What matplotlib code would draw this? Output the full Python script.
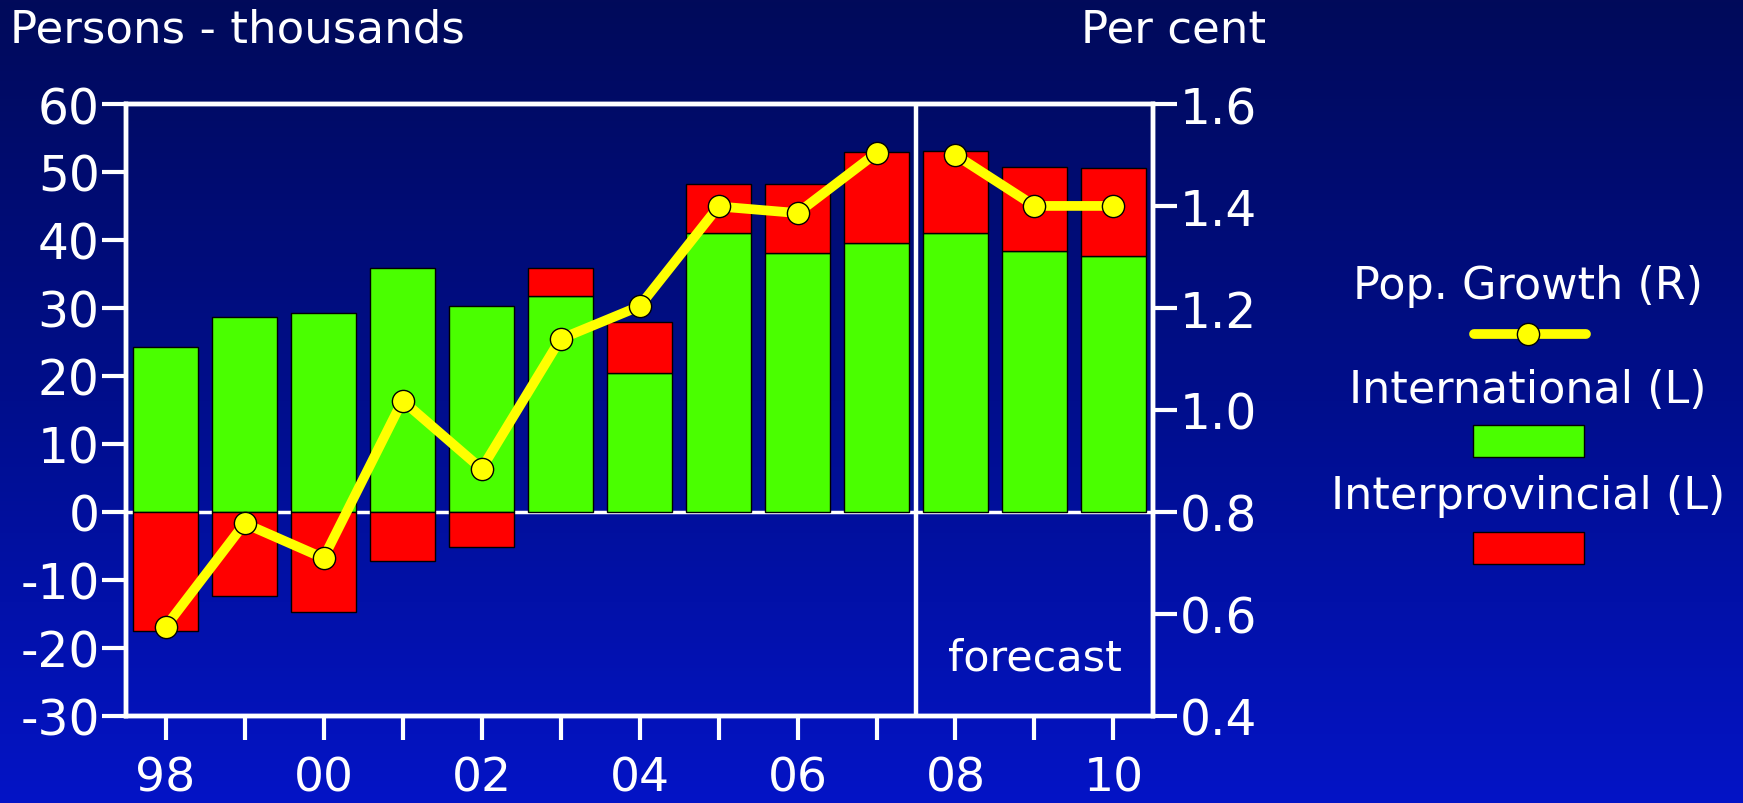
import numpy as np
import matplotlib
matplotlib.use("Agg")
from matplotlib import pyplot as plt
from matplotlib.colors import LinearSegmentedColormap
from matplotlib.lines import Line2D
from matplotlib.patches import Rectangle

plt.rcParams['font.family'] = ['DejaVu Sans']
plt.rcParams['axes.unicode_minus'] = False

years = ['98', '99', '00', '01', '02', '03', '04', '05', '06', '07', '08', '09', '10']
international = [24.3, 28.6, 29.2, 35.9, 30.2, 31.7, 20.4, 41.0, 38.0, 39.6, 41.0, 38.4, 37.6]
interprovincial = [-17.6, -12.4, -14.8, -7.3, -5.2, 4.1, 7.5, 7.3, 10.3, 13.4, 12.1, 12.3, 13.0]
pop_growth = [0.574, 0.777, 0.709, 1.018, 0.884, 1.139, 1.203, 1.399, 1.386, 1.504, 1.500, 1.400, 1.400]
first_forecast = '08'

left_ticks = [60, 50, 40, 30, 20, 10, 0, -10, -20, -30]
right_ticks = [1.6, 1.4, 1.2, 1.0, 0.8, 0.6, 0.4]

GREEN = '#4aff00'
RED = '#ff0000'
YELLOW = '#ffff00'
WHITE = 'white'

fig = plt.figure(figsize=(17.43, 8.04), dpi=100)

# blue gradient background
bg = fig.add_axes([0, 0, 1, 1], zorder=-10)
cmap = LinearSegmentedColormap.from_list('bg', ['#010a5a', '#000e8c', '#0414c6'])
bg.imshow(np.linspace(0, 1, 256).reshape(-1, 1), aspect='auto', cmap=cmap,
          extent=[0, 1, 0, 1], origin='upper')
bg.axis('off')

ax = fig.add_axes([0.0723, 0.1088, 0.5892, 0.7606])
ax.set_facecolor('none')
ax2 = ax.twinx()

x = np.arange(len(years))
intl = np.array(international)
inter = np.array(interprovincial)
growth = np.array(pop_growth)
k = years.index(first_forecast)

# interprovincial stacks on top of international when positive, hangs below zero when negative
inter_bottom = np.where(inter > 0, intl, 0)
ax.axhline(0, color=WHITE, lw=2.5, zorder=1)
ax.bar(x, intl, width=0.82, color=GREEN, edgecolor='black', linewidth=1, zorder=2)
ax.bar(x, inter, bottom=inter_bottom, width=0.82, color=RED, edgecolor='black',
       linewidth=1, zorder=2)

ax.axvline(k - 0.5, color=WHITE, lw=3.2, zorder=3)
ax.text(k + 1, -21.5, 'forecast', color=WHITE,
        fontsize=31, ha='center', va='center', zorder=4)

# actuals and forecast drawn as separate pieces
line_kw = dict(color=YELLOW, lw=7, marker='o', markersize=16, markerfacecolor=YELLOW,
               markeredgecolor='black', markeredgewidth=1, solid_capstyle='round', zorder=5)
ax2.plot(x[:k], growth[:k], **line_kw)
ax2.plot(x[k:], growth[k:], **line_kw)

ax.set_xlim(-0.5, len(years) - 0.5)
ax.set_ylim(-30, 60)
ax2.set_ylim(0.4, 1.6)

ax.set_xticks(x)
ax.set_xticklabels([y if i % 2 == 0 else '' for i, y in enumerate(years)])
ax.set_yticks(left_ticks)
ax.set_yticklabels([str(v) for v in left_ticks])
ax2.set_yticks(right_ticks)
ax2.set_yticklabels(['%.1f' % v for v in right_ticks])

for a in (ax, ax2):
    for s in a.spines.values():
        s.set_color(WHITE)
        s.set_linewidth(3.2)
ax.tick_params(axis='y', colors=WHITE, labelsize=35, length=17, width=3, pad=2)
ax.tick_params(axis='x', colors=WHITE, labelsize=34, length=17, width=3, pad=12)
ax2.tick_params(axis='y', colors=WHITE, labelsize=35, length=17, width=3, pad=2)

fig.text(0.006, 0.963, 'Persons - thousands', color=WHITE, fontsize=32.5, ha='left', va='center')
fig.text(0.7265, 0.963, 'Per cent', color=WHITE, fontsize=32.5, ha='right', va='center')

# legend built by hand: label above each sample
W, H = 1743.0, 804.0
lx = 1528 / W
fig.text(lx, 1 - 286 / H, 'Pop. Growth (R)', color=WHITE, fontsize=32, ha='center', va='center')
fig.add_artist(Line2D([1474 / W, 1586 / W], [1 - 335 / H] * 2, color=YELLOW, lw=7,
                      solid_capstyle='round', transform=fig.transFigure))
fig.add_artist(Line2D([lx], [1 - 335 / H], marker='o', markersize=16, color=YELLOW,
                      markeredgecolor='black', markeredgewidth=1, transform=fig.transFigure))
fig.text(lx, 1 - 391 / H, 'International (L)', color=WHITE, fontsize=32, ha='center', va='center')
fig.add_artist(Rectangle((1473 / W, 1 - 458 / H), 111 / W, 32 / H, facecolor=GREEN,
                         edgecolor='black', linewidth=1, transform=fig.transFigure))
fig.text(lx, 1 - 497 / H, 'Interprovincial (L)', color=WHITE, fontsize=32, ha='center', va='center')
fig.add_artist(Rectangle((1473 / W, 1 - 565 / H), 111 / W, 32 / H, facecolor=RED,
                         edgecolor='black', linewidth=1, transform=fig.transFigure))

fig.savefig('out.png', dpi=100)
